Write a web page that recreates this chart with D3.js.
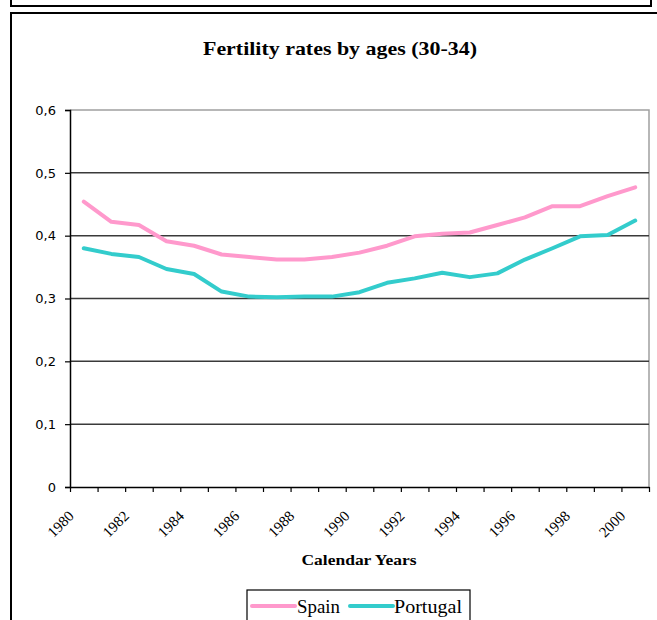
<!DOCTYPE html>
<html>
<head>
<meta charset="utf-8">
<script src="https://cdn.jsdelivr.net/npm/d3@7"></script>
<style>
  html, body { margin: 0; padding: 0; background: #fff; }
  svg { display: block; }
</style>
</head>
<body>
<svg id="chart" width="657" height="620"></svg>
<script>
const years = ["1980","1981","1982","1983","1984","1985","1986","1987","1988","1989","1990",
               "1991","1992","1993","1994","1995","1996","1997","1998","1999","2000"];
const spain    = [0.454,0.422,0.417,0.391,0.384,0.370,0.366,0.362,0.362,0.366,0.373,
                  0.384,0.399,0.403,0.405,0.417,0.429,0.447,0.447,0.463,0.477];
const portugal = [0.380,0.371,0.366,0.347,0.339,0.311,0.303,0.302,0.303,0.303,0.310,
                  0.325,0.332,0.341,0.334,0.340,0.362,0.380,0.399,0.401,0.424];
const yTicks = [0, 0.1, 0.2, 0.3, 0.4, 0.5, 0.6];
const xLabels = ["1980","1982","1984","1986","1988","1990","1992","1994","1996","1998","2000"];
const seriesNames = ["Spain", "Portugal"];
const seriesColors = ["#ff99cc", "#33cccc"];

const svg = d3.select("#chart");
const L = 70, R = 649, T = 110, B = 487;

// outer frames
svg.append("rect").attr("x", 11).attr("y", -5).attr("width", 640).attr("height", 11)
  .attr("fill", "none").attr("stroke", "#000").attr("stroke-width", 2);
svg.append("rect").attr("x", 11).attr("y", 13).attr("width", 680).attr("height", 640)
  .attr("fill", "none").attr("stroke", "#000").attr("stroke-width", 2);

const x = d3.scaleBand().domain(years).range([L, R]).padding(0);
const xb = d3.scaleLinear().domain([0, years.length]).range([L, R]);
const y = d3.scaleLinear().domain([0, 0.6]).range([B, T]);

// plot area border (gray)
svg.append("path")
  .attr("d", `M${L},${y(0.6)}H${R}V${B}`)
  .attr("fill", "none").attr("stroke", "#a0a0a0").attr("stroke-width", 1.5);

// gridlines
svg.append("g").selectAll("line").data(yTicks.filter(d => d > 0 && d < 0.6)).join("line")
  .attr("x1", L).attr("x2", R)
  .attr("y1", d => y(d)).attr("y2", d => y(d))
  .attr("stroke", "#3a3a3a").attr("stroke-width", 1.5);

// y axis
const fmt = d => d === 0 ? "0" : d3.format(".1f")(d).replace(".", ",");
const gy = svg.append("g").attr("transform", `translate(${L},0)`)
  .call(d3.axisLeft(y).tickValues(yTicks).tickFormat(fmt).tickSize(5).tickPadding(9));
gy.select(".domain").attr("stroke", "#000").attr("stroke-width", 1.5);
gy.selectAll(".tick line").attr("stroke", "#000").attr("stroke-width", 1.2);
gy.selectAll(".tick text").attr("font-family", "DejaVu Sans").attr("font-size", 13).attr("fill", "#000");

// x axis (ticks between categories)
const gx = svg.append("g").attr("transform", `translate(0,${B})`)
  .call(d3.axisBottom(xb).tickValues(d3.range(years.length + 1)).tickFormat("").tickSize(5).tickSizeOuter(0));
gx.select(".domain").attr("stroke", "#000").attr("stroke-width", 1.5);
gx.selectAll(".tick line").attr("stroke", "#000").attr("stroke-width", 1.2);

// x labels
svg.append("g").selectAll("text").data(xLabels).join("text")
  .attr("transform", d => `translate(${x(d) + x.bandwidth() / 2 - 9},517) rotate(-45)`)
  .attr("text-anchor", "end")
  .attr("font-family", "Liberation Serif").attr("font-size", 15).attr("fill", "#000")
  .text(d => d);

// lines
const line = d3.line().x((d, i) => x(years[i]) + x.bandwidth() / 2).y(d => y(d));
[spain, portugal].forEach((s, k) => {
  svg.append("path").datum(s).attr("d", line)
    .attr("fill", "none").attr("stroke", seriesColors[k]).attr("stroke-width", 4)
    .attr("stroke-linejoin", "round").attr("stroke-linecap", "round");
});

// title
svg.append("text").attr("x", 340).attr("y", 55).attr("text-anchor", "middle")
  .attr("font-family", "Liberation Serif").attr("font-weight", "bold").attr("font-size", 19)
  .attr("textLength", 274).attr("lengthAdjust", "spacingAndGlyphs")
  .text("Fertility rates by ages (30-34)");

// x axis title
svg.append("text").attr("x", 359).attr("y", 565).attr("text-anchor", "middle")
  .attr("font-family", "Liberation Serif").attr("font-weight", "bold").attr("font-size", 15)
  .attr("textLength", 115).attr("lengthAdjust", "spacingAndGlyphs")
  .text("Calendar Years");

// legend
svg.append("rect").attr("x", 247).attr("y", 590).attr("width", 223).attr("height", 50)
  .attr("fill", "#fff").attr("stroke", "#000").attr("stroke-width", 1.2);
const legendItems = [
  { x1: 252, x2: 295, tx: 297, tw: 43 },
  { x1: 350, x2: 393, tx: 394, tw: 68 }
];
legendItems.forEach((it, k) => {
  svg.append("line").attr("x1", it.x1).attr("x2", it.x2).attr("y1", 606).attr("y2", 606)
    .attr("stroke", seriesColors[k]).attr("stroke-width", 4).attr("stroke-linecap", "round");
  svg.append("text").attr("x", it.tx).attr("y", 613)
    .attr("font-family", "Liberation Serif").attr("font-size", 19).attr("fill", "#000")
    .attr("textLength", it.tw).attr("lengthAdjust", "spacingAndGlyphs")
    .text(seriesNames[k]);
});
</script>
</body>
</html>
